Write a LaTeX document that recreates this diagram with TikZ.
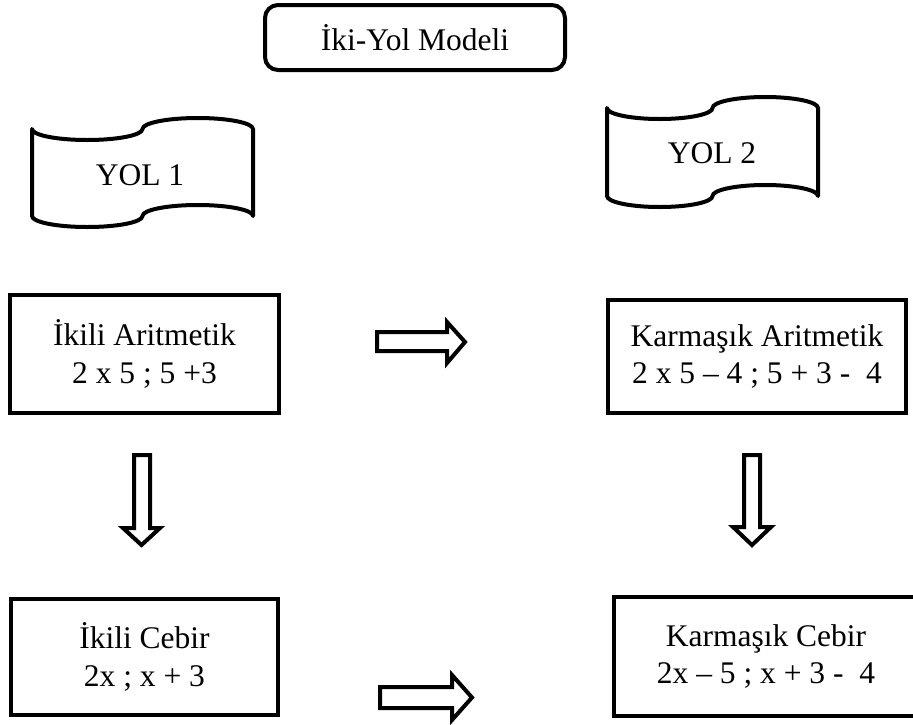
\documentclass[tikz,border=0pt]{standalone}
\usepackage{fontspec}
\setmainfont{Liberation Serif}
\begin{document}
\begin{tikzpicture}[x=1pt,y=1pt,
  txt/.style={font=\fontsize{31.5}{37.5}\selectfont},
  box/.style={draw, line width=4pt, rectangle, inner sep=0pt, align=center, txt},
  blockarrow/.style={draw, line width=4pt, line join=miter, fill=white},
  wavebox/.style={draw, line width=4pt, line join=round},
  lbl/.style={txt, inner sep=0pt}]
\useasboundingbox (0,0) rectangle (913,-724);
\clip (0,0) rectangle (913,-724);
\fill[white] (0,0) rectangle (913,-724);

% title
\node[box, rounded corners=13pt, minimum width=300pt, minimum height=65pt] (title) at (415,-37.5) {İki-Yol Modeli};

% wave banners
\draw[wavebox] (32,-129)
  arc[start angle=180,end angle=360,x radius=55.25,y radius=11]
  arc[start angle=180,end angle=0,x radius=55.25,y radius=11]
  -- (253,-216)
  arc[start angle=0,end angle=180,x radius=55.25,y radius=11]
  arc[start angle=0,end angle=-180,x radius=55.25,y radius=11]
  -- cycle;
\node[lbl] (yol1) at (140,-175) {YOL 1};

\draw[wavebox] (607,-108)
  arc[start angle=180,end angle=360,x radius=52.75,y radius=11]
  arc[start angle=180,end angle=0,x radius=52.75,y radius=11]
  -- (818,-196)
  arc[start angle=0,end angle=180,x radius=52.75,y radius=11]
  arc[start angle=0,end angle=-180,x radius=52.75,y radius=11]
  -- cycle;
\node[lbl] (yol2) at (712,-153) {YOL 2};

% boxes
\node[box, minimum width=269pt, minimum height=118pt] (a) at (144.5,-354) {İkili Aritmetik\\2 x 5 ; 5 +3};
\node[box, minimum width=298pt, minimum height=113pt] (b) at (757,-356.5) {Karmaşık Aritmetik\\2 x 5 – 4 ; 5 + 3 -\ \ 4};
\node[box, minimum width=267pt, minimum height=116pt] (c) at (144.5,-657) {İkili Cebir\\2x ; x + 3};
\node[box, minimum width=304pt, minimum height=119pt] (d) at (766,-656.5) {Karmaşık Cebir\\2x – 5 ; x + 3 -\ \ 4};

% block arrows
\draw[blockarrow] (377,-332) -- (447,-332) -- (447,-322) -- (465,-342) -- (447,-363) -- (447,-351) -- (377,-351) -- cycle;
\draw[blockarrow] (380,-687) -- (452,-687) -- (452,-675) -- (472,-697.5) -- (452,-720) -- (452,-708) -- (380,-708) -- cycle;
\draw[blockarrow] (134,-455) -- (150,-455) -- (150,-528) -- (160,-528) -- (141.5,-545) -- (123,-528) -- (134,-528) -- cycle;
\draw[blockarrow] (744,-455) -- (760,-455) -- (760,-527) -- (771,-527) -- (752,-545) -- (733,-527) -- (744,-527) -- cycle;
\end{tikzpicture}
\end{document}
